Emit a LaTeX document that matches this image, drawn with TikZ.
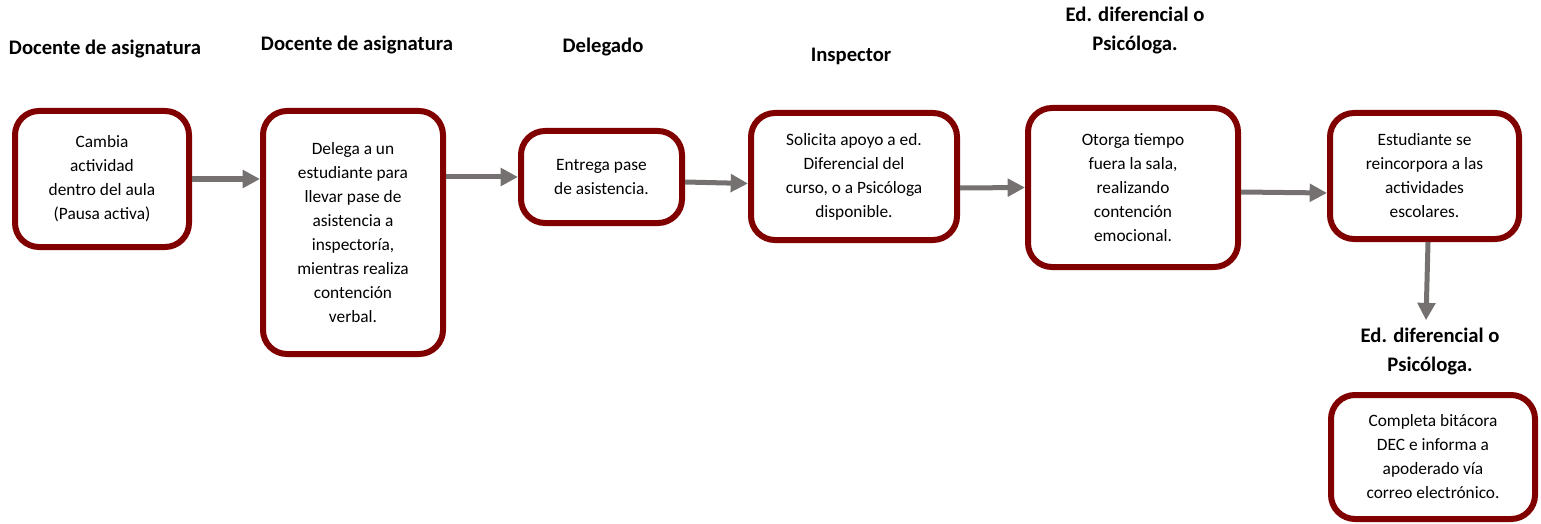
\documentclass[tikz,border=0pt]{standalone}
\usepackage{fontspec}
\setmainfont{Carlito}
\usepackage{tikz}
\usetikzlibrary{arrows.meta}
\definecolor{guinda}{RGB}{128,0,0}
\definecolor{grisflecha}{RGB}{118,113,113}

\begin{document}
\begin{tikzpicture}[x=0.75pt,y=0.75pt,yscale=-1,xscale=1,
  caja/.style={draw=guinda, line width=4.5pt, rounded corners=18pt, fill=white, align=center, inner sep=0.75pt, font=\fontsize{13}{18}\selectfont},
  titulo/.style={align=center, inner sep=0.75pt, font=\fontsize{15.5}{21.75}\selectfont\bfseries},
  flecha/.style={draw=grisflecha, line width=3.75pt, -{Triangle[length=13pt,width=13pt]}}]
\useasboundingbox (0,0) rectangle (1541,524);

% Titles
\node [titulo] (h1) at (105,49) {Docente de asignatura};
\node [titulo] (h2) at (357,45) {Docente de asignatura};
\node [titulo] (h3) at (603,47) {Delegado};
\node [titulo] (h4) at (851,56) {Inspector};
\node [titulo] (h5) at (1135,31) {Ed. diferencial o\\Psicóloga.};
\node [titulo] (h7) at (1430,351) {Ed. diferencial o\\Psicóloga.};

% Rounded Rect
\node [caja, minimum width=130.5pt, minimum height=102pt] (b1) at (102,179) {Cambia\\actividad\\dentro del aula\\(Pausa activa)};
% Rounded Rect
\node [caja, minimum width=135pt, minimum height=182.25pt] (b2) at (353,232.5) {Delega a un\\estudiante para\\llevar pase de\\asistencia a\\inspectoría,\\mientras realiza\\contención\\verbal.};
% Rounded Rect
\node [caja, minimum width=120.75pt, minimum height=69pt] (b3) at (601.5,177) {Entrega pase\\de asistencia.};
% Rounded Rect
\node [caja, minimum width=154.5pt, minimum height=95.25pt] (b4) at (854,176.5) {Solicita apoyo a ed.\\Diferencial del\\curso, o a Psicóloga\\disponible.};
% Rounded Rect
\node [caja, minimum width=157.5pt, minimum height=119.25pt] (b5) at (1133,187.5) {Otorga tiempo\\fuera la sala,\\realizando\\contención\\emocional.};
% Rounded Rect
\node [caja, minimum width=141.75pt, minimum height=94.5pt] (b6) at (1424.5,176) {Estudiante se\\reincorpora a las\\actividades\\escolares.};
% Rounded Rect
\node [caja, minimum width=153pt, minimum height=93pt] (b7) at (1433,457) {Completa bitácora\\DEC e informa a\\apoderado vía\\correo electrónico.};

%Straight Lines
\draw [flecha] (b1.east) -- (b1.east -| b2.west);
\draw [flecha] (b2.east |- b3.west) -- (b3.west);
\draw [flecha] ([shift={(0,5)}]b3.east) -- ([shift={(0,7)}]b4.west);
\draw [flecha] ([shift={(0,11.5)}]b4.east) -- (b5.west);
\draw [flecha] ([shift={(0,4.5)}]b5.east) -- ([shift={(0,17)}]b6.west);
\draw [flecha] ([shift={(3.5,0)}]b6.south) -- ([shift={(-4,-6)}]h7.north);

\end{tikzpicture}
\end{document}
